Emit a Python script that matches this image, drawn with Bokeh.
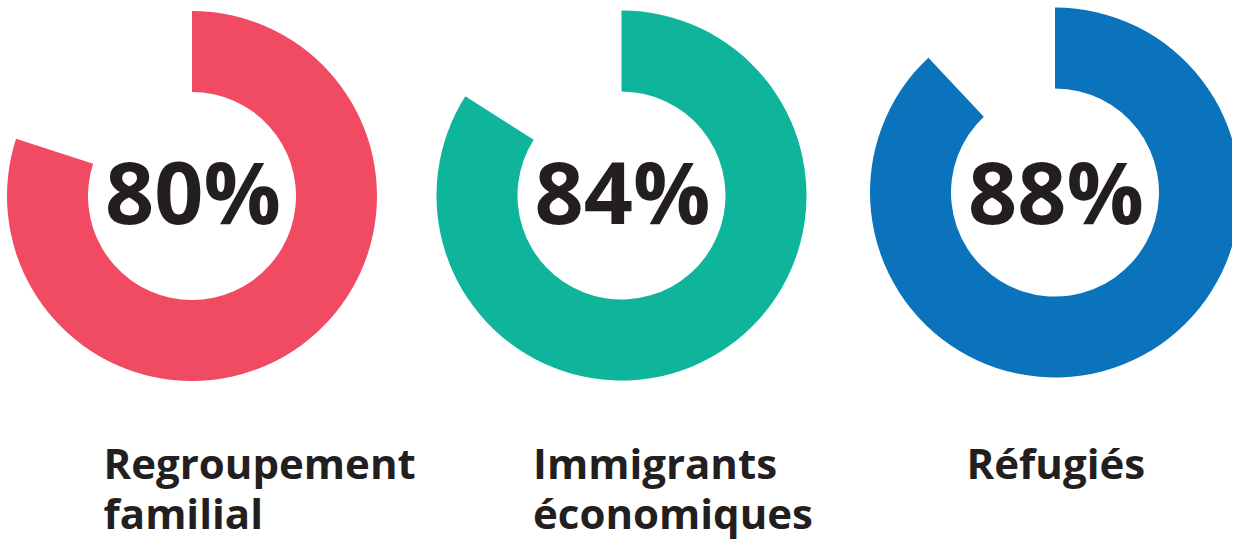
import math
from bokeh.plotting import figure
from bokeh.models import Range1d, ColumnDataSource
from bokeh.core.properties import value
from bokeh.embed import file_html
from bokeh.resources import INLINE

categories = ["Regroupement\nfamilial", "Immigrants\néconomiques", "Réfugiés"]
percent = [80, 84, 88]
colors = ["#F04B63", "#0EB59A", "#0B73BB"]

W, H = 1232, 545
p = figure(width=W, height=H, output_backend="svg", toolbar_location=None,
           x_range=Range1d(0, W), y_range=Range1d(0, H),
           min_border=0, outline_line_color=None)
p.axis.visible = False
p.grid.visible = False
p.background_fill_color = "white"
p.border_fill_color = "white"

# picture y (from top) -> data y
def iy(y):
    return H - y

cx = [191.5, 621, 1054.5]
cy = [iy(195.5), iy(195), iy(192)]
R_out, R_in = 185, 104

src = ColumnDataSource(dict(
    x=cx, y=cy, color=colors,
    start=[math.pi / 2] * 3,
    end=[math.pi / 2 - 2 * math.pi * v / 100 for v in percent],
))
p.annular_wedge(x="x", y="y", inner_radius=R_in, outer_radius=R_out,
                start_angle="start", end_angle="end", direction="clock",
                fill_color="color", line_color=None, source=src)

p.text(x=[c + 1 for c in cx], y=[iy(190)] * 3, text=[f"{v}%" for v in percent],
       text_font=value("Open Sans"), text_font_style="bold", text_font_size="86px",
       text_color="#231F20", text_align="center", text_baseline="alphabetic")

lines1 = [c.split("\n")[0] for c in categories]
lines2 = [c.split("\n")[1] if "\n" in c else "" for c in categories]
lx = [c - 88.5 for c in cx]
p.text(x=lx, y=[iy(462)] * 3, text=lines1,
       text_font=value("Open Sans"), text_font_style="bold", text_font_size="42px",
       text_color="#231F20", text_align="left", text_baseline="alphabetic")
p.text(x=lx, y=[iy(512)] * 3, text=lines2,
       text_font=value("Open Sans"), text_font_style="bold", text_font_size="42px",
       text_color="#231F20", text_align="left", text_baseline="alphabetic")

open("out.html", "w").write(file_html(p, INLINE))
